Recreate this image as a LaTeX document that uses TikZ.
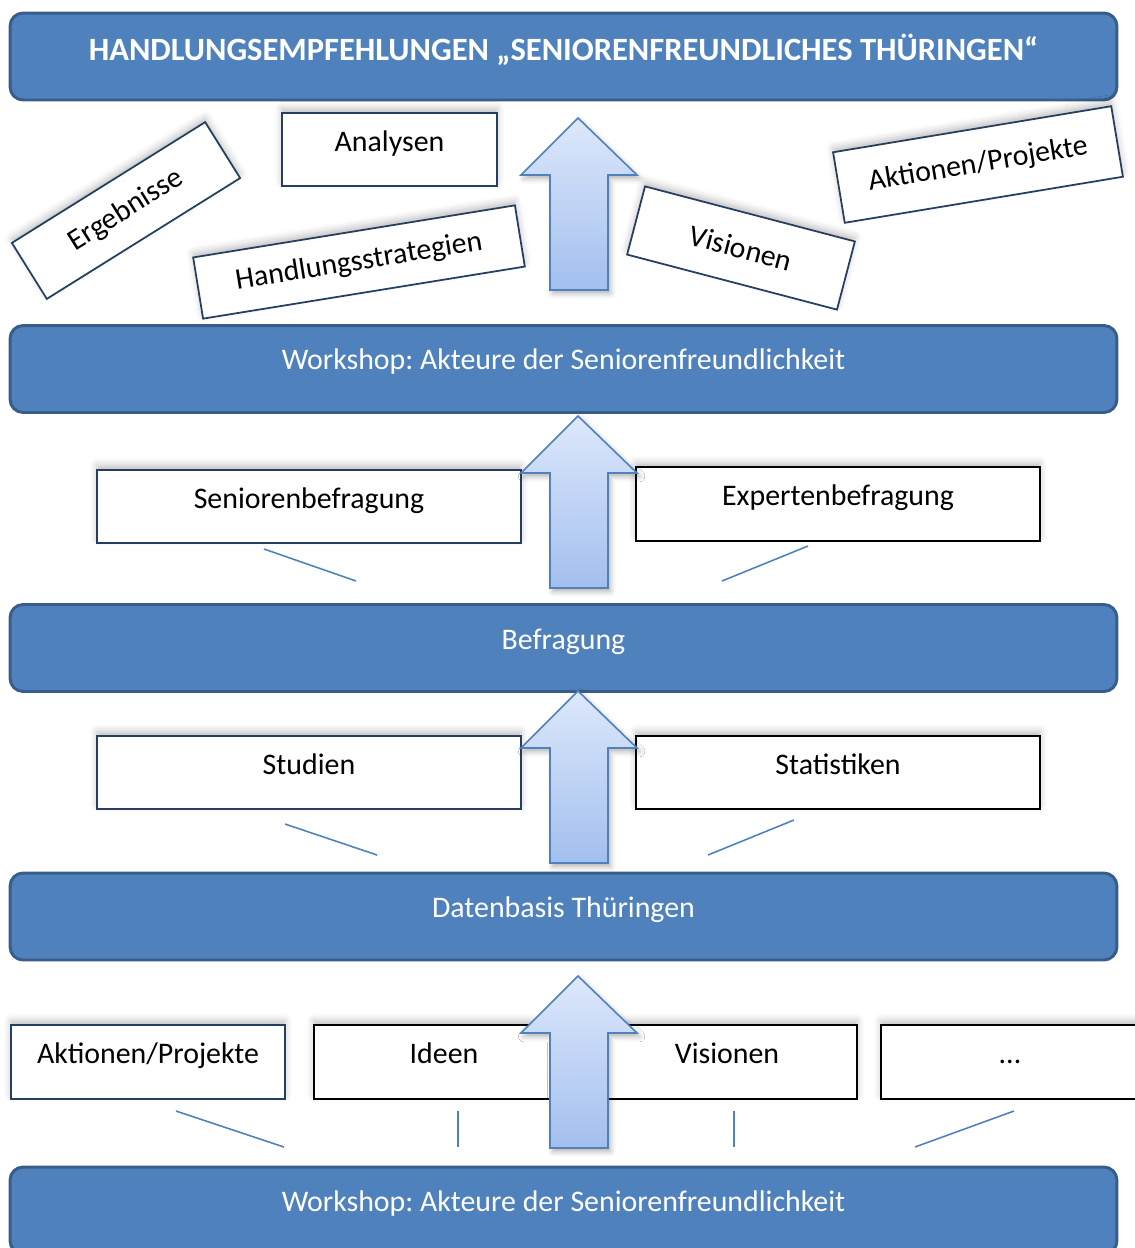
\documentclass[tikz,border=0pt]{standalone}
\usepackage{fontspec}
\setmainfont{Carlito}
\usetikzlibrary{shadows.blur}
\definecolor{barblue}{HTML}{4F81BD}
\definecolor{bardark}{HTML}{385D8A}
\definecolor{boxnavy}{HTML}{243F60}
\definecolor{arrowtop}{HTML}{DDE8FB}
\definecolor{arrowbot}{HTML}{A3BFEE}
\frenchspacing
\begin{document}
\begin{tikzpicture}[x=0.02cm, y=-0.02cm,
		bar/.style={draw=bardark, fill=barblue, line width=1.7pt, rounded corners=0.26cm,
			minimum width=22.14cm, minimum height=1.74cm, inner sep=0pt},
		bartext/.style={text=white, font=\fontsize{17}{20}\selectfont},
		box/.style={draw=boxnavy, fill=white, line width=1pt, inner sep=0pt,
			minimum height=1.47cm, text height=12pt, text depth=10pt,
			font=\fontsize{17}{20}\selectfont,
			blur shadow={shadow xshift=0pt, shadow yshift=2.5pt, shadow opacity=25, shadow blur radius=4pt}},
		tilted/.style={box, text height=, text depth=},
		link/.style={draw=barblue, line width=0.9pt},
		uparrow/.style={draw=barblue, line width=0.9pt, top color=arrowtop, bottom color=arrowbot,
			blur shadow={shadow xshift=1.5pt, shadow yshift=-2pt, shadow opacity=30, shadow blur radius=3pt}}]
	\useasboundingbox (0,0) rectangle (1135,1248);
	
	% Balken (Ebenen)
	\node[bar] (empf) at (563.5,56.5) {};
	\node[bartext, font=\fontsize{18.5}{21}\selectfont\bfseries] (empf-t) at (563.5,50) {HANDLUNGSEMPFEHLUNGEN „SENIORENFREUNDLICHES THÜRINGEN“};
	\node[bar] (ws2) at (563.5,369) {};
	\node[bartext] (ws2-t) at (563.5,362) {Workshop: Akteure der Seniorenfreundlichkeit};
	\node[bar] (befr) at (563.5,648) {};
	\node[bartext] (befr-t) at (563.5,642) {Befragung};
	\node[bar] (daten) at (563.5,916.5) {};
	\node[bartext] (daten-t) at (563.5,910) {Datenbasis Thüringen};
	\node[bar] (ws1) at (563.5,1210.5) {};
	\node[bartext] (ws1-t) at (563.5,1204) {Workshop: Akteure der Seniorenfreundlichkeit};
	
	% Schraeg liegende Kaesten oben
	\node[tilted, rotate=32, minimum width=4.56cm, minimum height=1.32cm] (ergeb) at (126,210.5) {Ergebnisse};
	\node[box, minimum width=4.3cm, minimum height=1.46cm] (analy) at (389.5,149.5) {Analysen};
	\node[tilted, rotate=9.2, minimum width=6.52cm, minimum height=1.24cm] (hstrat) at (359,262) {Handlungsstrategien};
	\node[tilted, rotate=-14.7, minimum width=4.34cm, minimum height=1.41cm] (vis2) at (741,248) {Visionen};
	\node[tilted, rotate=9.4, minimum width=5.64cm, minimum height=1.43cm] (akt2) at (978,164.5) {Aktionen/Projekte};
	
	% Befragung
	\node[box, minimum width=8.48cm] (senbef) at (309,506.5) {Seniorenbefragung};
	\node[box, draw=black, minimum width=8.08cm] (expbef) at (838,504) {Expertenbefragung};
	
	% Datenbasis
	\node[box, minimum width=8.48cm] (stud) at (309,772.5) {Studien};
	\node[box, draw=black, minimum width=8.08cm] (stat) at (838,772.5) {Statistiken};
	
	% Workshop-Ergebnisse unten
	\node[box, minimum width=5.48cm, minimum height=1.48cm] (akt1) at (148,1062) {Aktionen/Projekte};
	\node[box, draw=black, minimum width=5.2cm, minimum height=1.48cm] (ideen) at (444,1062) {Ideen};
	\node[box, draw=black, minimum width=5.2cm, minimum height=1.48cm] (vis1) at (727,1062) {Visionen};
	\node[box, draw=black, minimum width=5.16cm, minimum height=1.48cm] (more) at (1010,1062) {...};
	
	% Verbindungslinien
	\foreach \n/\xa/\ya/\xb/\yb in {s/264/549/356/581, e/808/546/722/581,
			st/285/824/377/855, sa/794/820/708/855,
			a/176/1111/284/1147, i/458/1111/458/1147, v/734/1111/734/1147, m/1014/1111/915/1147} {
		\coordinate (\n-a) at (\xa,\ya);
		\coordinate (\n-b) at (\xb,\yb);
		\draw[link] (\n-a) -- (\n-b);
	}
	
	% Blockpfeile nach oben
	\foreach \t in {118,416,691,976} {
		\path[uparrow] (578,\t) -- (637,\t+57) -- (608,\t+57) -- (608,\t+172)
			-- (550,\t+172) -- (550,\t+57) -- (521,\t+57) -- cycle;
	}
\end{tikzpicture}
\end{document}
